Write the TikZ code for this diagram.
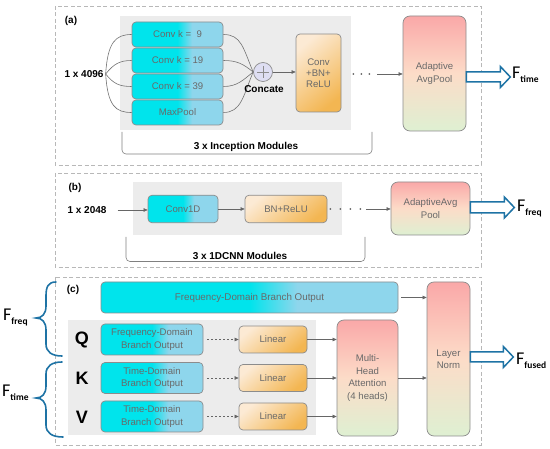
\documentclass[tikz,border=0pt]{standalone}
\usepackage{fontspec}
\setmainfont{Liberation Sans}
\newfontfamily\flabfont{Carlito}
\usetikzlibrary{arrows.meta,calc}
\definecolor{cyA}{RGB}{0,228,236}
\definecolor{cyB}{RGB}{142,214,236}
\definecolor{orL}{RGB}{252,234,212}
\definecolor{orR}{RGB}{243,182,82}
\definecolor{pkT}{RGB}{250,168,168}
\definecolor{pkM}{RGB}{252,220,200}
\definecolor{pkB}{RGB}{222,240,210}
\definecolor{hblue}{RGB}{30,115,165}
\definecolor{edgec}{RGB}{140,140,140}
\definecolor{btext}{RGB}{105,105,105}
\definecolor{bgfill}{RGB}{236,236,236}
\definecolor{ccfill}{RGB}{222,222,242}
\pgfdeclarehorizontalshading{cyansh}{100bp}{color(0bp)=(cyA); color(50bp)=(cyA); color(58bp)=(cyB); color(100bp)=(cyB)}
\newcommand\Fsub[1]{F\raisebox{-4pt}{\fontsize{9.5}{10}\selectfont\bfseries #1}}
\begin{document}
\begin{tikzpicture}[x=1pt,y=-1pt,
  box/.style={draw=edgec, line width=0.7pt, rounded corners=4pt, inner sep=0pt, align=center, text=btext, font=\fontsize{9.6}{12.3}\selectfont},
  cyanbox/.style={box, shade, shading=cyansh},
  orbox/.style={box, top color=orL, bottom color=orR, shading angle=40},
  pkbox/.style={box, top color=pkT, bottom color=pkB, middle color=pkM, rounded corners=7pt},
  frame/.style={draw=black!28, dash pattern=on 4pt off 2.5pt, line width=0.7pt},
  blab/.style={font=\bfseries\fontsize{10}{12}\selectfont, inner sep=0pt},
  conn/.style={draw=black!60, line width=0.6pt, -{Triangle[length=4pt,width=3.5pt]}},
  dconn/.style={conn, dash pattern=on 2pt off 2pt},
  curve/.style={draw=black!55, line width=0.6pt},
  dotc/.style={fill=black!60},
  hollow/.style={draw=hblue, line width=1.5pt, fill=white, line join=miter},
  brk/.style={draw=black!50, line width=0.6pt, rounded corners=4pt},
  cbrace/.style={draw=hblue, line width=1.6pt, line cap=round},
  flab/.style={inner sep=0pt, anchor=base west, font=\flabfont\fontsize{18}{20}\selectfont},
  qkv/.style={font=\bfseries\fontsize{18}{20}\selectfont, inner sep=0pt}
]
\useasboundingbox (0,0) rectangle (550,449);

% ---------------- (a)
\draw[frame] (55,6) rectangle (481,165);
\fill[bgfill] (120,16) rectangle (351,130);
\node[blab] (la) at (71,21) {(a)};
\node[blab] (in1) at (84,74) {1 x 4096};
\node[cyanbox, minimum width=91pt, minimum height=25pt] (c9) at (177.5,34.5) {Conv k = \ 9};
\node[cyanbox, minimum width=91pt, minimum height=25pt] (c19) at (177.5,60.5) {Conv k = 19};
\node[cyanbox, minimum width=91pt, minimum height=25pt] (c39) at (177.5,86.5) {Conv k = 39};
\node[cyanbox, minimum width=91pt, minimum height=25pt] (mp) at (177.5,112.5) {MaxPool};
\coordinate (ja) at ($(in1.east)+(2,0)$);
\draw[curve] (ja) .. controls +(2,-32) and +(-16,0) .. (c9.west);
\draw[curve] (ja) .. controls +(8,-10) and +(-12,0) .. (c19.west);
\draw[curve] (ja) .. controls +(8,10) and +(-12,0) .. (c39.west);
\draw[curve] (ja) .. controls +(2,32) and +(-16,0) .. (mp.west);
\node[draw=edgec, fill=ccfill, circle, minimum size=19pt, inner sep=0pt, line width=0.7pt] (cc) at (263,72) {};
\draw[black!45, line width=0.6pt] ($(cc)+(-6,0)$) -- ($(cc)+(6,0)$) ($(cc)+(0,-6)$) -- ($(cc)+(0,6)$);
\draw[curve] (c9.east) .. controls +(18,0) and +(-10,-24) .. (cc.west);
\draw[curve] (c19.east) .. controls +(14,0) and +(-10,-8) .. (cc.west);
\draw[curve] (c39.east) .. controls +(14,0) and +(-10,8) .. (cc.west);
\draw[curve] (mp.east) .. controls +(18,0) and +(-10,24) .. (cc.west);
\node[blab] (ccl) at (264,89) {Concate};
\node[orbox, minimum width=45pt, minimum height=78pt, font=\fontsize{9.6}{11.3}\selectfont] (cbr) at (318.5,73) {Conv\\+BN+\\ReLU};
\draw[conn] (cc.east) -- (cc.east -| cbr.west);
\node[pkbox, minimum width=63pt, minimum height=115pt] (ap1) at (434.5,73.5) {Adaptive\\AvgPool};
\foreach \d in {12,20,28} \fill[dotc] ($(cbr.east)+(\d,1)$) circle (1pt);
\draw[conn] ($(cbr.east)+(36,1)$) -- ($(cbr.east -| ap1.west)+(0,1)$);
\draw[hollow] ($(ap1.east)+(0,-1.5)$) -- ++(34,0) -- ++(0,-5.5) -- ++(10,10.5) -- ++(-10,10.5) -- ++(0,-5.5) -- ++(-34,0) -- cycle;
\node[flab] (ft) at (512,79) {\Fsub{time}};
\draw[brk] (122,132) -- (122,154) -- (372,154) -- (372,132);
\node[blab] (ima) at (246,147) {3 x Inception Modules};

% ---------------- (b)
\draw[frame] (55,173) rectangle (481,267);
\fill[bgfill] (133,182) rectangle (342,235);
\node[blab] (lb) at (75,188) {(b)};
\node[blab] (in2) at (87,210) {1 x 2048};
\node[cyanbox, minimum width=70pt, minimum height=27.5pt] (c1d) at (183,209) {Conv1D};
\node[orbox, minimum width=82pt, minimum height=27.5pt] (bnr) at (286,209) {BN+ReLU};
\node[pkbox, minimum width=79pt, minimum height=53pt] (ap2) at (430.5,208.5) {AdaptiveAvg\\Pool};
\draw[conn, shorten <=11pt] (in2.east) -- (in2.east -| c1d.west);
\draw[conn] (c1d.east) -- (bnr.west);
\foreach \d in {3,13,23,33} \fill[dotc] ($(bnr.east)+(\d,0)$) circle (1pt);
\draw[conn] ($(bnr.east)+(39,0)$) -- (bnr.east -| ap2.west);
\draw[hollow] ($(ap2.east)+(0,-6.5)$) -- ++(34,0) -- ++(0,-5) -- ++(10,10.5) -- ++(-10,10.5) -- ++(0,-5) -- ++(-34,0) -- cycle;
\node[flab] (ff) at (517,212) {\Fsub{freq}};
\draw[brk] (126,237) -- (126,261.5) -- (365,261.5) -- (365,237);
\node[blab] (imb) at (240,255.5) {3 x 1DCNN Modules};

% ---------------- (c)
\draw[frame] (55,277) rectangle (481,445);
\fill[bgfill] (68,320) rectangle (316,435);
\node[blab] (lc) at (73,290) {(c)};
\node[cyanbox, minimum width=297pt, minimum height=31pt, font=\fontsize{9.8}{12}\selectfont] (fbo) at (249.5,297.5) {Frequency-Domain Branch Output};
\node[qkv] (lq) at (82,340) {Q};
\node[qkv] (lk) at (82,378) {K};
\node[qkv] (lv) at (82,417) {V};
\node[cyanbox, minimum width=102pt, minimum height=31pt] (qb) at (152,339.5) {Frequency-Domain\\Branch Output};
\node[cyanbox, minimum width=102pt, minimum height=31pt] (kb) at (152,378) {Time-Domain\\Branch Output};
\node[cyanbox, minimum width=102pt, minimum height=31pt] (vb) at (152,416.5) {Time-Domain\\Branch Output};
\node[orbox, minimum width=68pt, minimum height=27pt] (l1) at (273,339.5) {Linear};
\node[orbox, minimum width=68pt, minimum height=27pt] (l2) at (273,378) {Linear};
\node[orbox, minimum width=68pt, minimum height=27pt] (l3) at (273,416.5) {Linear};
\node[pkbox, minimum width=61pt, minimum height=116pt, font=\fontsize{9.6}{12.7}\selectfont] (mha) at (367.5,378) {Multi-\\Head\\Attention\\(4 heads)};
\node[pkbox, minimum width=43pt, minimum height=154pt] (ln) at (448.5,359) {Layer\\Norm};
\draw[dconn, shorten <=4pt] (qb.east) -- (l1.west);
\draw[dconn, shorten <=4pt] (kb.east) -- (l2.west);
\draw[dconn, shorten <=4pt] (vb.east) -- (l3.west);
\draw[conn] (l1.east) -- (l1.east -| mha.west);
\draw[conn] (l2.east) -- (l2.east -| mha.west);
\draw[conn] (l3.east) -- (l3.east -| mha.west);
\draw[conn, shorten <=3pt] (fbo.east) -- (fbo.east -| ln.west);
\draw[conn] (mha.east) -- (mha.east -| ln.west);
\draw[hollow] ($(ln.east)+(0,-7)$) -- ++(33,0) -- ++(0,-5.5) -- ++(10,10.5) -- ++(-10,10.5) -- ++(0,-5.5) -- ++(-33,0) -- cycle;
\node[flab] (fu) at (516,365) {\Fsub{fused}};

% braces
\draw[cbrace] (56,282) .. controls (48,282) and (46,287) .. (46,296) -- (46,306) .. controls (46,314) and (42,318) .. (36,318) .. controls (42,318) and (46,322) .. (46,330) -- (46,344) .. controls (46,352) and (52,356) .. (62,356);
\draw[cbrace] (62,362) .. controls (52,362) and (46,366) .. (46,374) -- (46,386) .. controls (46,394) and (42,398) .. (36,398) .. controls (42,398) and (46,402) .. (46,410) -- (46,425) .. controls (46,433) and (52,437) .. (63,437);
\node[flab] (bff) at (3,321) {\Fsub{freq}};
\node[flab] (bft) at (2,397) {\Fsub{time}};
\end{tikzpicture}
\end{document}
